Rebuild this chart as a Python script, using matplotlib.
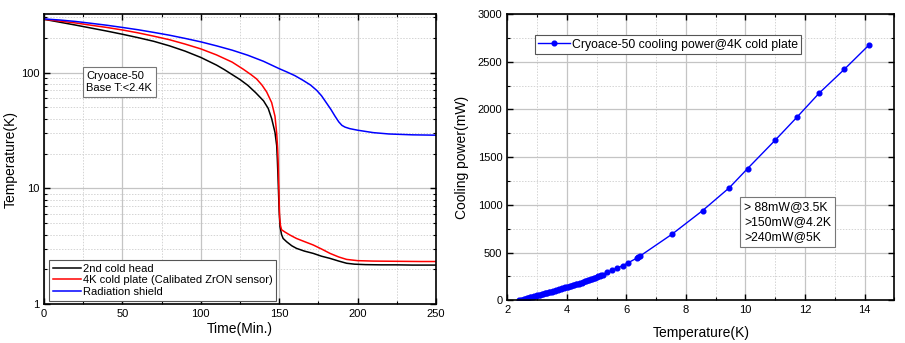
import matplotlib
matplotlib.use("Agg")
import matplotlib.pyplot as plt
from matplotlib.ticker import MultipleLocator, LogLocator, FixedLocator, NullFormatter

plt.rcParams['font.family'] = ['Liberation Sans', 'DejaVu Sans']

# ---- Left panel data: cooldown curves ----
t_head = [0, 10, 20, 30, 40, 50, 60, 70, 80, 90, 100, 110, 115, 120, 125, 130, 135, 140, 143, 145.2,
          147.3, 148.4, 148.8, 149.2, 149.6, 150.0, 150.5, 151.5, 152.5, 154.8, 158, 161, 166, 171.7,
          177, 182.4, 188, 193, 198, 205, 215, 225, 235, 250]
T_head = [288, 272, 257, 242, 228, 214, 200, 186, 170, 153, 135, 116, 106, 96, 87, 77.5, 67, 57, 49, 40,
          30.5, 23.4, 18, 13, 9, 6.3, 4.7, 4.0, 3.7, 3.46, 3.2, 3.04, 2.88, 2.75,
          2.6, 2.49, 2.36, 2.26, 2.22, 2.2, 2.19, 2.19, 2.18, 2.18]

t_plate = [0, 10, 20, 30, 40, 50, 60, 70, 80, 90, 100, 110, 120, 127, 132, 135.6, 139, 142, 145.2, 147.3,
           148.4, 149.0, 149.4, 149.7, 150.0, 150.3, 150.8, 151.5, 153.7, 157, 161, 166, 171.7, 177,
           182.4, 188, 193, 200, 210, 225, 240, 250]
T_plate = [288, 278, 268, 256, 245, 233, 220, 206, 192, 176, 160, 142, 123, 107, 96, 88, 78, 68, 55, 42,
           30, 22, 16, 11, 7.5, 5.6, 4.8, 4.4, 4.2, 3.95, 3.7, 3.48, 3.25, 3.0,
           2.75, 2.56, 2.44, 2.38, 2.36, 2.35, 2.34, 2.34]

t_shield = [0, 10, 20, 30, 40, 50, 60, 70, 80, 90, 100, 110, 120, 130, 140, 150, 155, 160, 165, 170,
            174, 177, 180, 183, 185.6, 188, 190, 192, 195, 200, 210, 220, 235, 250]
T_shield = [290, 284, 276, 266, 256, 245, 234, 222, 210, 197, 184, 170, 156, 141, 125, 108, 101, 94, 86, 78,
            70, 63, 55, 48, 42, 37.5, 35, 33.8, 32.8, 31.8, 30.3, 29.5, 29, 28.8]

# ---- Right panel data: cooling power ----
temp_K = [2.40, 2.45, 2.50, 2.55, 2.60, 2.65, 2.70, 2.75, 2.80, 2.85, 2.90, 2.95, 3.00, 3.05, 3.10,
          3.15, 3.20, 3.25, 3.30, 3.35, 3.40, 3.45, 3.50, 3.55, 3.60, 3.65, 3.70, 3.75, 3.80, 3.85,
          3.90, 3.95, 4.00, 4.05, 4.10, 4.15, 4.20, 4.25, 4.30, 4.35, 4.40, 4.45, 4.50, 4.55, 4.60,
          4.65, 4.70, 4.75, 4.80, 4.85, 4.90, 4.95, 5.00, 5.05, 5.10, 5.15, 5.20,
          5.36, 5.53, 5.70, 5.88, 6.04, 6.35, 6.40, 6.46, 7.53, 8.56, 9.46, 10.07, 10.99, 11.74,
          12.48, 13.32, 14.15]
power_mW = [0, 4, 8, 12.5, 17, 21.5, 26, 30.5, 35, 39.5, 44, 48, 52, 56, 60,
            64, 68, 72, 76, 79.5, 83, 87, 91, 95.5, 100, 104.5, 109, 114, 119, 124,
            129, 134.5, 140, 144, 148, 152, 156, 161, 166, 171, 176, 181, 186, 191.5, 197,
            202.5, 208, 213.5, 219, 225, 231, 237.5, 244, 250, 256, 262, 268,
            292, 314, 338, 364, 390, 442, 452, 464, 692, 940, 1180, 1380, 1675, 1922,
            2172, 2420, 2675]

left_xticks = [0, 50, 100, 150, 200, 250]
left_yticks = [1, 10, 100]
right_xticks = [2, 4, 6, 8, 10, 12, 14]
right_yticks = [0, 500, 1000, 1500, 2000, 2500, 3000]

W, H = 905, 343
fig = plt.figure(figsize=(W / 100, H / 100), dpi=100)

def frac(x0, x1, y0, y1):
    return [x0 / W, 1 - y1 / H, (x1 - x0) / W, (y1 - y0) / H]

axL = fig.add_axes(frac(44, 436, 14, 304.3))
axR = fig.add_axes(frac(507.3, 894.3, 14, 300.3))

grid_major = dict(color='#c4c4c4', linewidth=0.9, linestyle='-')
grid_minor = dict(color='#d4d4d4', linewidth=0.7, linestyle=(0, (1.5, 1.5)))

for ax in (axL, axR):
    for s in ax.spines.values():
        s.set_linewidth(1.2)
        s.set_color('black')
    ax.tick_params(which='both', direction='in', top=True, right=True, labelsize=8)
    ax.tick_params(which='major', length=4, width=1.0)
    ax.tick_params(which='minor', length=2.5, width=0.8)
    ax.set_axisbelow(True)

# Left panel
axL.plot(t_head, T_head, color='black', lw=1.1, label='2nd cold head')
axL.plot(t_plate, T_plate, color='red', lw=1.1, label='4K cold plate (Calibated ZrON sensor)')
axL.plot(t_shield, T_shield, color='blue', lw=1.1, label='Radiation shield')
axL.set_yscale('log')
axL.set_xlim(0, 250)
axL.set_ylim(1, 320)
axL.xaxis.set_major_locator(FixedLocator(left_xticks))
axL.xaxis.set_minor_locator(MultipleLocator(25))
axL.yaxis.set_major_locator(FixedLocator(left_yticks))
axL.set_yticklabels([str(v) for v in left_yticks])
axL.yaxis.set_minor_locator(LogLocator(base=10, subs=range(2, 10)))
axL.yaxis.set_minor_formatter(NullFormatter())
axL.grid(True, which='major', **grid_major)
axL.grid(True, which='minor', **grid_minor)
axL.set_xlabel('Time(Min.)', fontsize=10, labelpad=2)
axL.set_ylabel('Temperature(K)', fontsize=10, labelpad=2)
legL = axL.legend(loc='lower left', bbox_to_anchor=(0.012, 0.012), borderaxespad=0, fontsize=8,
                  fancybox=False, edgecolor='#555555', framealpha=1, handlelength=2.6,
                  handletextpad=0.1, labelspacing=0.15, borderpad=0.35)
legL.get_frame().set_linewidth(0.8)
axL.text(0.108, 0.805, 'Cryoace-50\nBase T:<2.4K', transform=axL.transAxes, fontsize=8,
         va='top', ha='left', linespacing=1.35,
         bbox=dict(boxstyle='square,pad=0.3', fc='white', ec='#777777', lw=0.8))

# Right panel
axR.plot(temp_K, power_mW, color='blue', lw=1.0, marker='o', markersize=3.4,
         label='Cryoace-50 cooling power@4K cold plate')
axR.set_xlim(2, 15)
axR.set_ylim(0, 3000)
axR.xaxis.set_major_locator(FixedLocator(right_xticks))
axR.xaxis.set_minor_locator(MultipleLocator(1))
axR.yaxis.set_major_locator(FixedLocator(right_yticks))
axR.yaxis.set_minor_locator(MultipleLocator(250))
axR.grid(True, which='major', **grid_major)
axR.grid(True, which='minor', **grid_minor)
axR.set_xlabel('Temperature(K)', fontsize=10, labelpad=8)
axR.set_ylabel('Cooling power(mW)', fontsize=10, labelpad=6)
legR = axR.legend(loc='upper left', bbox_to_anchor=(0.072, 0.925), borderaxespad=0, fontsize=8.8,
                  fancybox=False, edgecolor='#555555', framealpha=1, handlelength=2.6,
                  handletextpad=0.2, borderpad=0.25)
legR.get_frame().set_linewidth(0.8)
axR.text(0.612, 0.345, '> 88mW@3.5K\n>150mW@4.2K\n>240mW@5K', transform=axR.transAxes,
         fontsize=8.8, va='top', ha='left', linespacing=1.3,
         bbox=dict(boxstyle='square,pad=0.35', fc='white', ec='#777777', lw=0.8))

fig.savefig('out.png', dpi=100)
